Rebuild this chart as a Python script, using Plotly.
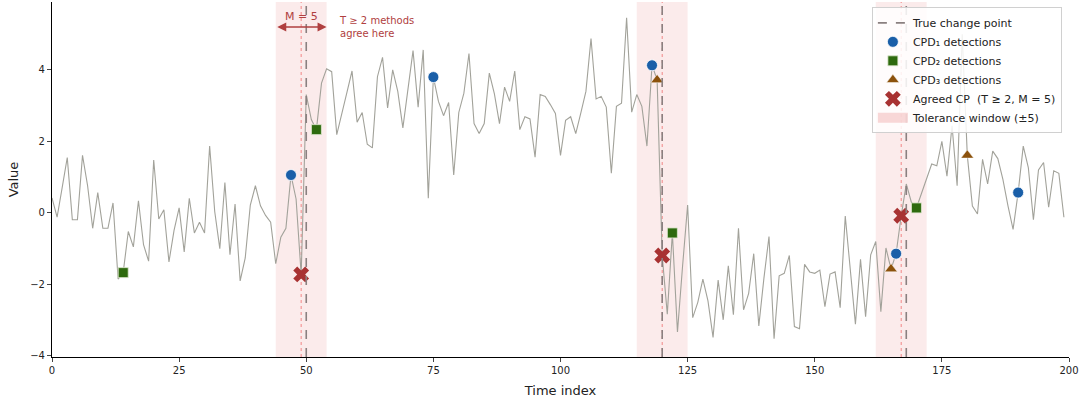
import plotly.graph_objects as go

# ---------------- data ----------------
series = [
    0.42, -0.12, 0.71, 1.55, -0.19, -0.19, 1.61, 0.76, -0.43, 0.57,
    -0.43, -0.43, 0.28, -1.85, -1.67, -0.52, -0.95, 0.34, -0.89, -1.35,
    1.48, -0.17, 0.09, -1.37, -0.49, 0.14, -1.09, 0.41, -0.56, -0.26,
    -0.56, 1.87, 0.04, -1.00, 0.85, -1.17, 0.25, -1.90, -1.26, 0.22,
    0.76, 0.20, -0.07, -0.26, -1.42, -0.68, -0.43, 1.06, 0.39, -1.72,
    3.31, 2.61, 2.33, 3.63, 4.03, 3.95, 2.19, 2.75, 3.37, 3.97,
    2.54, 2.81, 1.92, 1.82, 3.81, 4.35, 2.94, 4.00, 3.40, 2.38,
    3.51, 4.54, 2.96, 4.56, 0.41, 3.80, 3.12, 2.72, 3.09, 1.06,
    2.81, 3.35, 4.46, 2.50, 2.22, 2.50, 3.91, 3.33, 2.50, 3.52,
    3.12, 3.97, 2.33, 2.69, 2.63, 1.56, 3.31, 3.26, 3.03, 2.78,
    1.61, 2.59, 2.69, 2.22, 2.80, 3.40, 4.88, 3.19, 3.26, 2.96,
    1.11, 2.98, 3.07, 5.46, 2.82, 3.31, 2.98, 1.87, 4.13, 3.72,
    -1.19, -2.83, -0.56, -3.33, -1.50, 0.22, -2.93, -2.50, -1.85, -2.46,
    -3.48, -1.88, -2.99, -1.48, -2.85, -0.43, -2.71, -2.25, -1.14, -3.16,
    -1.83, -0.66, -3.52, -1.76, -1.69, -1.19, -3.18, -3.24, -1.44, -1.65,
    -1.69, -1.60, -2.62, -1.71, -1.65, -2.65, -0.09, -1.60, -3.11, -1.30,
    -2.90, -1.17, -0.80, -2.76, -0.98, -1.57, -1.14, -0.08, 0.81, 0.30,
    0.14, 0.55, 0.99, 1.37, 1.32, 2.00, 1.03, 2.44, 0.76, 5.00,
    1.61, 0.19, -0.03, 1.50, 0.81, 1.73, 1.52, 0.94, 0.20, -0.46,
    0.57, 1.87, 1.27, -0.19, 1.20, 1.41, 0.16, 1.18, 1.11, -0.12,
]
time_index = list(range(len(series)))

true_cps = [50, 120, 168]
cpd1_idx = [47, 75, 118, 166, 190]
cpd2_idx = [14, 52, 122, 170]
cpd3_idx = [119, 165, 180]
agreed_idx = [49, 120, 167]
tolerance = 5

x_ticks = [0, 25, 50, 75, 100, 125, 150, 175, 200]
y_ticks = [-4, -2, 0, 2, 4]

FONT = "DejaVu Sans"
RED = "#a83232"
ANN = "#b04040"

fig = go.Figure()

shapes = []
for a in agreed_idx:
    shapes.append(dict(type="rect", xref="x", yref="paper", x0=a - tolerance, x1=a + tolerance,
                       y0=0, y1=1, fillcolor="rgba(230,110,110,0.14)", line=dict(width=0), layer="below"))
for a in agreed_idx:
    shapes.append(dict(type="line", xref="x", yref="paper", x0=a, x1=a, y0=0, y1=1,
                       line=dict(color="rgba(240,110,110,0.8)", width=1, dash="dot"), layer="below"))
for cp in true_cps:
    shapes.append(dict(type="line", xref="x", yref="paper", x0=cp, x1=cp, y0=0, y1=1,
                       line=dict(color="#8a8080", width=1.6, dash="dash"), layer="above"))

fig.add_trace(go.Scatter(x=[None], y=[None], mode="lines", name="True change point",
                         line=dict(color="#8a8080", width=1.6, dash="dash")))

fig.add_trace(go.Scatter(x=time_index, y=series, mode="lines", showlegend=False,
                         line=dict(color="#a2a29a", width=1.1), hoverinfo="skip"))

def pts(idx):
    return idx, [series[i] for i in idx]

x1, y1 = pts(cpd1_idx)
fig.add_trace(go.Scatter(x=x1, y=y1, mode="markers", name="CPD₁ detections",
                         marker=dict(symbol="circle", size=11, color="#1a5fa8",
                                     line=dict(color="white", width=0.8))))
x2, y2 = pts(cpd2_idx)
fig.add_trace(go.Scatter(x=x2, y=y2, mode="markers", name="CPD₂ detections",
                         marker=dict(symbol="square", size=10, color="#2e6a0e",
                                     line=dict(color="#dfe8d0", width=0.8))))
x3, y3 = pts(cpd3_idx)
fig.add_trace(go.Scatter(x=x3, y=y3, mode="markers", name="CPD₃ detections",
                         marker=dict(symbol="triangle-up", size=11, color="#8c520c",
                                     line=dict(color="white", width=0.5))))
xa, ya = pts(agreed_idx)
fig.add_trace(go.Scatter(x=xa, y=ya, mode="markers", name="Agreed CP  (T ≥ 2, M = 5)",
                         marker=dict(symbol="x", size=14, color=RED,
                                     line=dict(color="white", width=0))))
fig.add_trace(go.Scatter(x=[None], y=[None], mode="lines", name="Tolerance window (±5)",
                         line=dict(color="rgba(240,170,170,0.45)", width=10)))

c0 = agreed_idx[0]
annotations = [
    dict(x=c0 + tolerance, y=5.2, ax=c0 - tolerance, ay=5.2, xref="x", yref="y", axref="x", ayref="y",
         text="", showarrow=True, arrowhead=2, startarrowhead=2, arrowside="end+start",
         arrowsize=1.2, arrowwidth=1.5, arrowcolor=ANN, startarrowsize=1.2),
    dict(x=c0, y=5.5, xref="x", yref="y", text="M = 5", showarrow=False,
         font=dict(family=FONT, size=11, color=ANN)),
    dict(x=c0 + 7, y=5.6, xref="x", yref="y", text="T ≥ 2 methods<br>agree here", showarrow=False,
         xanchor="left", yanchor="top", align="left",
         font=dict(family=FONT, size=10, color=ANN)),
]

fig.update_layout(
    width=1081, height=407,
    margin=dict(l=52, r=12, t=2, b=50),
    paper_bgcolor="white", plot_bgcolor="white",
    font=dict(family=FONT, size=11, color="#222"),
    shapes=shapes, annotations=annotations,
    legend=dict(x=0.993, y=0.985, xanchor="right", yanchor="top",
                bgcolor="rgba(255,255,255,0.85)", bordercolor="#d0d0d0", borderwidth=1,
                font=dict(family=FONT, size=11, color="#222"), tracegroupgap=0,
                itemwidth=30),
    showlegend=True,
)
fig.update_xaxes(range=[0, 200], tickvals=x_ticks, ticks="outside", ticklen=4,
                 showline=True, linecolor="black", linewidth=1.2, showgrid=False, zeroline=False,
                 title=dict(text="Time index", font=dict(family=FONT, size=13), standoff=10),
                 tickfont=dict(family=FONT, size=10))
fig.update_yaxes(range=[-4.03, 5.9], tickvals=y_ticks, ticks="outside", ticklen=4,
                 showline=True, linecolor="black", linewidth=1.2, showgrid=False, zeroline=False,
                 title=dict(text="Value", font=dict(family=FONT, size=13), standoff=8),
                 tickfont=dict(family=FONT, size=10))

fig.write_html("out.html")
